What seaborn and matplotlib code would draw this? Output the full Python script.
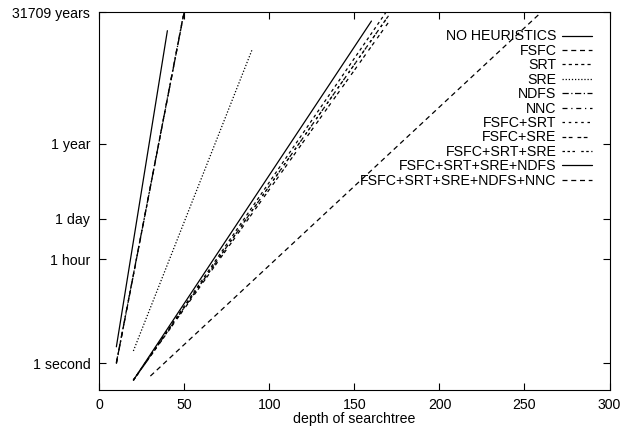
import pandas as pd
import matplotlib
matplotlib.use("Agg")
import matplotlib.pyplot as plt
import seaborn as sns

# run time (seconds) against search tree depth, start and end point of each curve
heuristics = ["NO HEURISTICS", "FSFC", "SRT", "SRE", "NDFS", "NNC",
              "FSFC+SRT", "FSFC+SRE", "FSFC+SRT+SRE",
              "FSFC+SRT+SRE+NDFS", "FSFC+SRT+SRE+NDFS+NNC"]
depths = [[10, 40], [10, 50], [20, 170], [20, 90], [10, 50], [10, 50],
          [20, 170], [20, 170], [20, 170], [20, 160], [30, 260]]
seconds = [[3.6, 2.3e11], [1.0, 1.1e12], [0.26, 1.3e12], [2.6, 5.5e10],
           [1.05, 1.1e12], [0.95, 1.2e12], [0.26, 7.4e11], [0.26, 4.4e11],
           [0.26, 7.4e11], [0.26, 4.9e11], [0.36, 1.0e12]]

tick_secs = [1, 3600, 86400, 31536000, 1e12]
tick_names = ["1 second", "1 hour", "1 day", "1 year", "31709 years"]

rows = []
for name, xs, ys in zip(heuristics, depths, seconds):
    for x, y in zip(xs, ys):
        rows.append({"heuristic": name, "depth": x, "time": y})
df = pd.DataFrame(rows)

sns.set_theme(style="ticks")
plt.rcParams["font.family"] = ["Liberation Sans", "DejaVu Sans"]
plt.rcParams["font.size"] = 10.2
plt.rcParams["text.color"] = "black"
plt.rcParams["axes.labelcolor"] = "black"

dash_styles = {
    "NO HEURISTICS": "",
    "FSFC": (4, 3),
    "SRT": (2.5, 2.5),
    "SRE": (1, 1.5),
    "NDFS": (5, 2, 1, 2),
    "NNC": (4, 3, 1, 3),
    "FSFC+SRT": (2, 3),
    "FSFC+SRE": (3, 2, 3, 4),
    "FSFC+SRT+SRE": (2, 2, 2, 2, 2, 5),
    "FSFC+SRT+SRE+NDFS": "",
    "FSFC+SRT+SRE+NDFS+NNC": (4, 3),
}

fig = plt.figure(figsize=(6.21, 4.32), dpi=100)
ax = fig.add_axes([0.160, 0.0972, 0.8215, 0.875])

sns.lineplot(data=df, x="depth", y="time", hue="heuristic", style="heuristic",
             hue_order=heuristics, style_order=heuristics,
             palette=["black"] * len(heuristics), dashes=dash_styles,
             linewidth=0.9, ax=ax)

ax.set_yscale("log")
ax.set_xlim(0, 300)
ax.set_ylim(10 ** -0.92, 1e12)
ax.set_xticks(range(0, 301, 50))
ax.set_yticks(tick_secs)
ax.set_yticklabels(tick_names)
ax.minorticks_off()
ax.tick_params(direction="in", length=5, width=0.8, top=True, right=True,
               labelsize=10.2, colors="black")
ax.tick_params(axis="x", pad=6)
ax.tick_params(axis="y", pad=6.5)
for s in ax.spines.values():
    s.set_visible(True)
    s.set_color("black")
    s.set_linewidth(0.8)

ax.set_xlabel("depth of searchtree", fontsize=10.2, labelpad=0)
ax.set_ylabel("")

sns.move_legend(ax, "upper right", frameon=False, markerfirst=False, title=None,
                fontsize=10.2, handlelength=2.1, handletextpad=0.4,
                labelspacing=0.03, borderaxespad=0.3, bbox_to_anchor=(0.985, 0.98))

fig.savefig("out.png", dpi=100)
